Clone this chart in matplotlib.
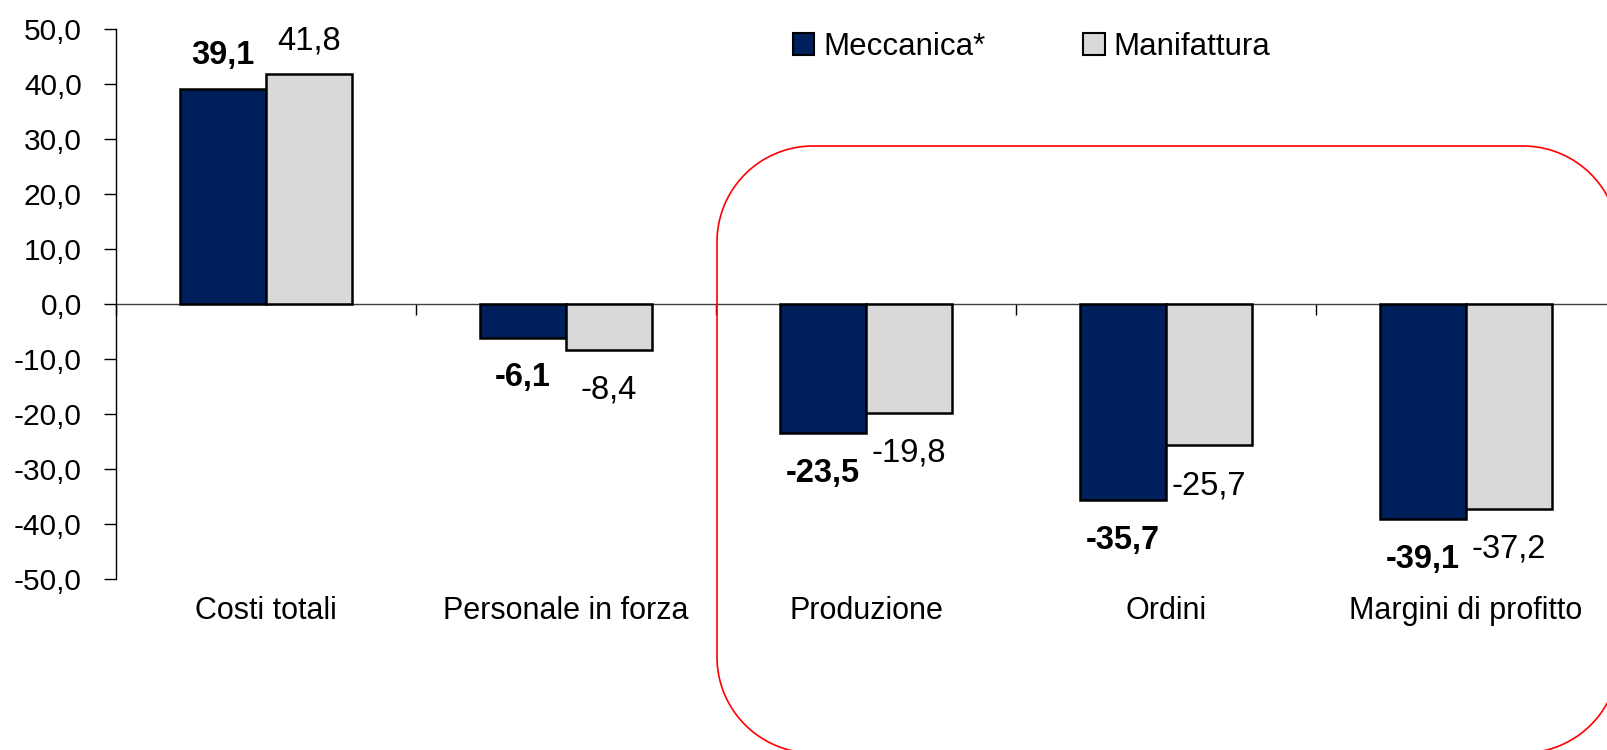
import numpy as np
import matplotlib.pyplot as plt
from matplotlib.patches import Patch, Polygon

plt.rcParams['font.family'] = ['Liberation Sans', 'DejaVu Sans']

# ---------- dati ----------
categorie = ["Costi totali", "Personale in forza", "Produzione", "Ordini", "Margini di profitto"]
meccanica = [39.1, -6.1, -23.5, -35.7, -39.1]
manifattura = [41.8, -8.4, -19.8, -25.7, -37.2]
serie = ["Meccanica*", "Manifattura"]
y_ticks = [-50, -40, -30, -20, -10, 0, 10, 20, 30, 40, 50]

COL_MECC = "#00205C"
COL_MANI = "#D9D9D9"

fig = plt.figure(figsize=(16.07, 7.5), dpi=100)
ax = fig.add_axes([116/1607, 1 - 579/750, 1500/1607, 550/750])

x = np.arange(len(categorie))
w = 0.2867
b1 = ax.bar(x - w/2, meccanica, w, color=COL_MECC, edgecolor="black", linewidth=1.8, zorder=3)
b2 = ax.bar(x + w/2, manifattura, w, color=COL_MANI, edgecolor="black", linewidth=1.8, zorder=3)

# etichette dei valori (virgola decimale)
def etichette(bars, vals, bold):
    for r, v in zip(bars, vals):
        off = 24 if v >= 0 else -29
        ax.annotate(f"{v:.1f}".replace(".", ","),
                    (r.get_x() + r.get_width()/2, v),
                    xytext=(0, off), textcoords="offset points",
                    ha="center", va="center", fontsize=23.5,
                    fontweight="bold" if bold else "normal")

etichette(b1, meccanica, True)
etichette(b2, manifattura, False)

ax.set_xlim(-0.5, len(categorie) - 0.5)
ax.set_ylim(-50, 50)
ax.set_yticks(y_ticks)
ax.set_yticklabels([f"{t:.1f}".replace(".", ",") for t in y_ticks], fontsize=21.5)
ax.tick_params(axis="y", length=8.6, width=1, pad=16, direction="out")

ax.set_xticks(x)
ax.set_xticklabels(categorie, fontsize=22)
ax.tick_params(axis="x", length=0, pad=12)

for s in ["top", "right", "bottom"]:
    ax.spines[s].set_visible(False)
ax.spines["left"].set_linewidth(1)

# asse orizzontale sullo zero con tacche tra le categorie
sec = ax.secondary_xaxis(0, transform=ax.transData)
sec.set_xticks(np.arange(len(categorie) + 1) - 0.5)
sec.tick_params(axis="x", length=8, width=1, direction="out", labelbottom=False, labeltop=False)
sec.spines["bottom"].set_color("#404040")
sec.spines["bottom"].set_linewidth(1)

# legenda
handles = [Patch(facecolor=COL_MECC, edgecolor="black", linewidth=1.5),
           Patch(facecolor=COL_MANI, edgecolor="black", linewidth=1.5)]
fig.legend(handles, serie, loc="center left", bbox_to_anchor=(793/1607, 1 - 47/750),
           ncol=2, frameon=False, fontsize=22.5, handlelength=0.68, handleheight=0.68,
           handletextpad=0.28, columnspacing=3.14, borderpad=0, borderaxespad=0)

# riquadro rosso arrotondato attorno alle ultime tre categorie (in pollici)
def rettangolo_arrotondato(x0, y0, x1, y1, r, n=40):
    pts = []
    for cx, cy, a0 in [(x1 - r, y1 - r, 0), (x0 + r, y1 - r, 90),
                       (x0 + r, y0 + r, 180), (x1 - r, y0 + r, 270)]:
        t = np.radians(np.linspace(a0, a0 + 90, n))
        pts.append(np.column_stack([cx + r*np.cos(t), cy + r*np.sin(t)]))
    return np.vstack(pts)

box = Polygon(rettangolo_arrotondato(7.17, -0.03, 16.19, 6.04, 0.96), closed=True,
              transform=fig.dpi_scale_trans, facecolor="none",
              edgecolor="#FF0000", linewidth=1.2, zorder=5)
fig.add_artist(box)

fig.savefig("out.png", dpi=100)
